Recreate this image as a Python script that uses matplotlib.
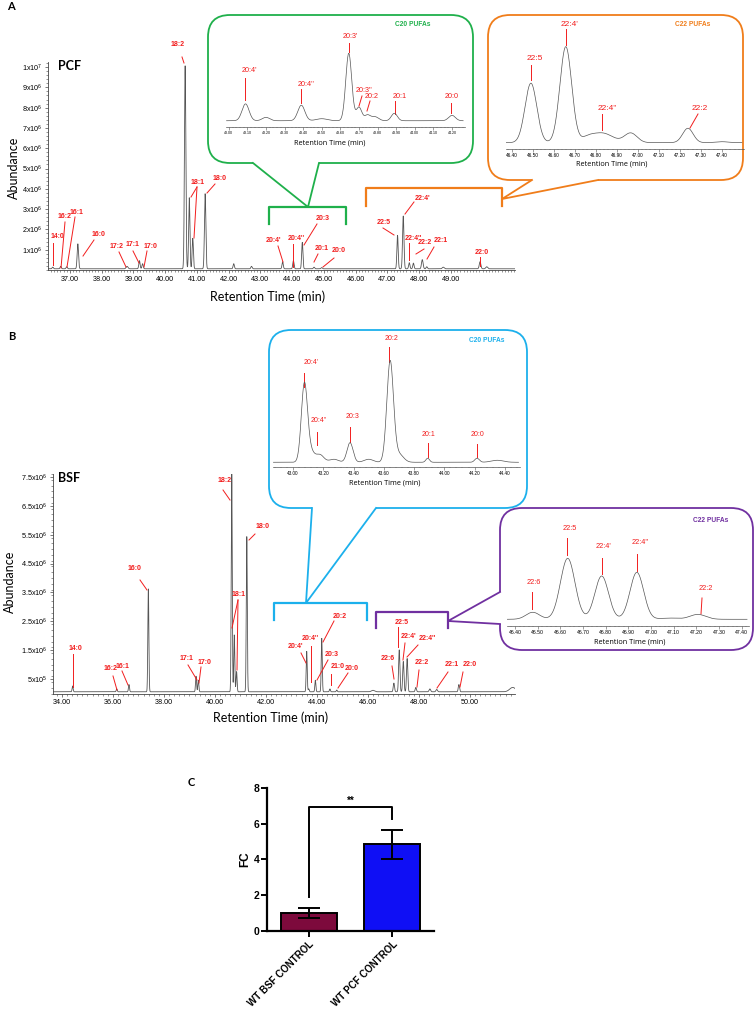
import numpy as np
import matplotlib
matplotlib.use("Agg")
import matplotlib.pyplot as plt
from matplotlib.patches import FancyBboxPatch
from matplotlib.ticker import MultipleLocator, FixedLocator, FuncFormatter

plt.rcParams['font.family'] = ['Liberation Sans', 'DejaVu Sans']

# ---------------- data ----------------
# PCF chromatogram: retention time (min), abundance (x1e6), peak sigma (min)
pcf_rt = [36.46, 36.71, 36.90, 37.25, 38.80, 39.19, 39.29, 40.63, 40.76, 40.87, 41.26, 42.16, 42.72,
          43.70, 44.04, 44.32, 44.69, 44.93, 47.32, 47.50, 47.69, 47.82, 48.10, 48.24, 48.76, 49.92, 50.13]
pcf_height = [0.08, 0.12, 0.10, 1.23, 0.12, 0.40, 0.25, 10.0, 3.5, 1.5, 3.7, 0.25, 0.12,
              0.35, 0.40, 1.3, 0.08, 0.06, 1.65, 2.6, 0.30, 0.28, 0.45, 0.10, 0.08, 0.35, 0.10]
pcf_sigma = [0.02, 0.02, 0.02, 0.022, 0.03, 0.02, 0.02, 0.022, 0.02, 0.02, 0.022, 0.02, 0.02,
             0.02, 0.02, 0.02, 0.02, 0.02, 0.02, 0.022, 0.02, 0.02, 0.025, 0.02, 0.03, 0.025, 0.03]

# BSF chromatogram
bsf_rt = [34.42, 36.15, 36.63, 37.39, 39.26, 39.35, 40.66, 40.76, 40.85, 41.25, 43.60, 43.68, 43.94,
          44.19, 44.51, 44.78, 46.20, 47.02, 47.23, 47.39, 47.54, 47.88, 48.43, 48.70, 49.57, 51.68]
bsf_height = [0.2, 0.1, 0.25, 3.56, 0.54, 0.40, 7.55, 1.97, 0.70, 5.37, 1.40, 0.10, 0.40,
              1.85, 0.10, 0.06, 0.05, 0.30, 1.45, 1.05, 1.15, 0.15, 0.10, 0.08, 0.25, 0.15]
bsf_sigma = [0.02, 0.02, 0.02, 0.02, 0.02, 0.02, 0.02, 0.02, 0.02, 0.02, 0.02, 0.02, 0.02,
             0.02, 0.02, 0.02, 0.06, 0.025, 0.025, 0.025, 0.025, 0.025, 0.03, 0.03, 0.025, 0.12]
baseline = 0.06

# zoomed traces (relative abundance)
pcf_c20_rt = [43.09, 43.20, 43.39, 43.50, 43.645, 43.70, 43.745, 43.785, 43.89, 44.20]
pcf_c20_h = [0.25, 0.05, 0.23, 0.03, 1.0, 0.20, 0.08, 0.06, 0.11, 0.08]
pcf_c20_s = [0.019, 0.02, 0.019, 0.03, 0.016, 0.015, 0.015, 0.02, 0.016, 0.018]

pcf_c22_rt = [46.491, 46.657, 46.76, 46.83, 46.966, 47.238, 47.40]
pcf_c22_h = [0.62, 1.0, 0.04, 0.10, 0.10, 0.15, 0.01]
pcf_c22_s = [0.028, 0.028, 0.03, 0.05, 0.03, 0.025, 0.03]

bsf_c20_rt = [43.075, 43.11, 43.18, 43.27, 43.377, 43.50, 43.642, 43.70, 43.89, 44.216, 44.35]
bsf_c20_h = [0.735, 0.12, 0.07, 0.03, 0.195, 0.03, 1.0, 0.08, 0.04, 0.04, 0.02]
bsf_c20_s = [0.02, 0.03, 0.025, 0.03, 0.02, 0.03, 0.022, 0.03, 0.012, 0.015, 0.04]

bsf_c22_rt = [46.478, 46.632, 46.782, 46.937, 47.08, 47.206]
bsf_c22_h = [0.115, 1.0, 0.71, 0.77, 0.02, 0.08]
bsf_c22_s = [0.03, 0.032, 0.03, 0.03, 0.04, 0.035]

# panel C
groups = ["WT BSF CONTROL", "WT PCF CONTROL"]
fc_mean = [1.0, 4.84]
fc_err = [0.30, 0.81]

# ---------------- layout helpers ----------------
W, H = 755, 1014
fig = plt.figure(figsize=(W / 100, H / 100), dpi=100)
RED = '#f21d1d'
TRACE = '#555555'


def px_axes(x0, y0, x1, y1, **kw):
    return fig.add_axes([x0 / W, 1 - y1 / H, (x1 - x0) / W, (y1 - y0) / H], **kw)


def trace(x, rt, h, s, base=0.0):
    y = np.full_like(x, base)
    for r, a, w in zip(rt, h, s):
        y += a * np.exp(-0.5 * ((x - r) / w) ** 2)
    return y


def sci_label(v, pos):
    if v <= 0:
        return ''
    e = int(np.floor(np.log10(v) + 1e-9))
    m = v / 10 ** e
    ms = f"{m:g}"
    return r"$\mathregular{" + ms + "x10^{" + str(e) + "}}$"


def style_main(ax, xlim, ylim, xmaj, xmin, ymaj, ymin):
    ax.set_facecolor('none')
    ax.set_xlim(*xlim)
    ax.set_ylim(*ylim)
    for s in ['top', 'right']:
        ax.spines[s].set_visible(False)
    for s in ['left', 'bottom']:
        ax.spines[s].set_linewidth(0.6)
        ax.spines[s].set_color('#444444')
    ax.xaxis.set_major_locator(FixedLocator(xmaj))
    ax.xaxis.set_minor_locator(MultipleLocator(xmin))
    ax.xaxis.set_major_formatter(FuncFormatter(lambda v, p: f"{v:.2f}"))
    ax.yaxis.set_major_locator(FixedLocator(ymaj))
    ax.yaxis.set_minor_locator(MultipleLocator(ymin))
    ax.yaxis.set_major_formatter(FuncFormatter(sci_label))
    ax.tick_params(which='major', length=2.5, width=0.5, labelsize=5.2, pad=1.5, color='#444444')
    ax.tick_params(which='minor', length=1.2, width=0.4, color='#444444')


def style_inset(ax, xlim, ylim, ticks, minor, fs):
    ax.set_facecolor('none')
    ax.set_xlim(*xlim)
    ax.set_ylim(*ylim)
    for s in ['top', 'right', 'left']:
        ax.spines[s].set_visible(False)
    ax.spines['bottom'].set_linewidth(0.5)
    ax.spines['bottom'].set_color('#555555')
    ax.set_yticks([])
    ax.xaxis.set_major_locator(FixedLocator(ticks))
    ax.xaxis.set_minor_locator(MultipleLocator(minor))
    ax.xaxis.set_major_formatter(FuncFormatter(lambda v, p: f"{v:.2f}"))
    ax.tick_params(which='major', length=1.8, width=0.4, labelsize=fs, pad=1, color='#555555')
    ax.tick_params(which='minor', length=1.0, width=0.3, color='#555555')


# ---------------- panel A main ----------------
axA = px_axes(48, 62, 515, 270)
xa = np.linspace(36.31, 51.02, 8000)
axA.plot(xa, trace(xa, pcf_rt, pcf_height, pcf_sigma, baseline) * 1e6, color=TRACE, lw=0.6)
style_main(axA, (36.31, 51.02), (0, 10.25e6), np.arange(37, 50), 0.1,
           np.arange(1, 11) * 1e6, 2e5)

# ---------------- panel B main ----------------
axB = px_axes(53, 474, 515, 693.5)
xb = np.linspace(33.65, 51.77, 8000)
axB.plot(xb, trace(xb, bsf_rt, bsf_height, bsf_sigma, baseline) * 1e6, color=TRACE, lw=0.6)
style_main(axB, (33.65, 51.77), (0, 7.6e6), np.arange(34, 51, 2), 0.2,
           np.arange(0.5, 8, 1.0) * 1e6, 2e5)

# ---------------- insets ----------------
insets = [
    ((226, 40, 465, 127), (42.985, 44.27), (-0.093, 1.197), np.arange(43.0, 44.25, 0.1), 0.02, 2.6,
     pcf_c20_rt, pcf_c20_h, pcf_c20_s),
    ((505.7, 20, 744, 149), (46.371, 47.505), (-0.066, 1.278), np.arange(46.4, 47.45, 0.1), 0.02, 3.4,
     pcf_c22_rt, pcf_c22_h, pcf_c22_s),
    ((273, 335, 520, 467), (42.868, 44.50), (-0.047, 1.265), np.arange(43.0, 44.45, 0.2), 0.04, 3.3,
     bsf_c20_rt, bsf_c20_h, bsf_c20_s),
    ((506.7, 515, 749.3, 625.7), (46.363, 47.433), (-0.105, 1.71), np.arange(46.4, 47.45, 0.1), 0.02, 3.7,
     bsf_c22_rt, bsf_c22_h, bsf_c22_s),
]
for rect, xl, yl, ticks, minor, fs, rt, h, s in insets:
    ax = px_axes(*rect, zorder=6)
    xi = np.linspace(xl[0] + 0.003, xl[1] - 0.01, 2000)
    ax.plot(xi, trace(xi, rt, h, s), color=TRACE, lw=0.5)
    style_inset(ax, xl, yl, ticks, minor, fs)

# ---------------- panel C ----------------
axC = px_axes(267.3, 787.7, 434, 931)
axC.bar([0, 1], fc_mean, width=0.67, color=['#7d0a3c', '#0f0ff5'], edgecolor='black', lw=1.4,
        yerr=fc_err, capsize=8, error_kw=dict(elinewidth=1.4, capthick=1.4, ecolor='black'))
axC.set_xlim(-0.5, 1.5)
axC.set_ylim(0, 8)
axC.set_yticks([0, 2, 4, 6, 8])
axC.set_xticks([0, 1])
axC.set_xticklabels(groups, rotation=45, ha='right', rotation_mode='anchor',
                    fontsize=7, fontweight='bold')
for lab in axC.get_yticklabels():
    lab.set_fontweight('bold')
axC.tick_params(axis='y', labelsize=7.5, width=1.4, length=4, pad=1.5)
axC.tick_params(axis='x', width=1.4, length=4, pad=2)
for s in ['top', 'right']:
    axC.spines[s].set_visible(False)
for s in ['left', 'bottom']:
    axC.spines[s].set_linewidth(1.6)
axC.set_ylabel('FC', fontsize=8.5, fontweight='bold', labelpad=1.5)
axC.plot([0, 0, 1, 1], [1.9, 6.95, 6.95, 6.25], color='black', lw=1.4)
axC.text(0.5, 7.0, '**', ha='center', va='bottom', fontsize=7, fontweight='bold')

# ---------------- overlay: callouts, labels, titles ----------------
ov = fig.add_axes([0, 0, 1, 1], zorder=5)
ov.set_xlim(0, W)
ov.set_ylim(H, 0)
ov.axis('off')
ov.patch.set_alpha(0)


def callout(box, color, base, tip, r, bracket, lw=1.3):
    x0, y0, x1, y1 = box
    ov.add_patch(FancyBboxPatch((x0, y0), x1 - x0, y1 - y0,
                                boxstyle=f"round,pad=0,rounding_size={r}",
                                fc='none', ec=color, lw=lw))
    (bx0, by0), (bx1, by1) = base
    ov.plot([bx0, bx1], [by0, by1], color='white', lw=lw + 1.5, solid_capstyle='butt')
    ov.plot([bx0, tip[0], bx1], [by0, tip[1], by1], color=color, lw=lw)
    bl, br, bt, bb = bracket
    ov.plot([bl, bl, br, br], [bb, bt, bt, bb], color=color, lw=lw + 0.3)


GREEN, ORANGE, CYAN, PURPLE = '#1fb04b', '#f07d1a', '#1cb0ec', '#7030a0'
callout((208, 15, 473, 163), GREEN, ((253, 163), (319, 163)), (308, 207), 22, (269, 346, 207, 224))
callout((488, 15, 743, 180), ORANGE, ((532, 180), (598, 180)), (502, 199), 22, (366, 502, 188, 206))
callout((269, 330, 527, 508), CYAN, ((312, 508), (376, 508)), (306, 603), 22, (274, 367, 603, 620))
callout((500, 508, 753, 650), PURPLE, ((500, 592), (500, 624)), (448, 621), 22, (376, 448, 612, 628))

# peak labels: text, text centre, line start, line end (figure pixels)
labels_main = [
    ("14:0", (57, 237), (53, 243), (53, 265)),
    ("16:2", (65, 217), (65, 222), (61, 268)),
    ("16:1", (77, 212), (75, 217), (67, 267)),
    ("16:0", (98, 234), (94, 240), (83, 256)),
    ("17:2", (117, 246), (119, 252), (126, 267)),
    ("17:1", (132, 245), (133, 251), (139, 263)),
    ("17:0", (151, 246), (147, 251), (144, 267)),
    ("18:2", (178, 44), (182, 57), (184, 63)),
    ("18:1", (198, 182), (197, 187), (191, 197)),
    ("", None, (197, 187), (194, 238)),
    ("18:0", (220, 178), (215, 184), (207, 193)),
    ("20:4'", (273, 240), (278, 246), (283, 262)),
    ("20:4''", (296, 239), (293, 244), (293, 267)),
    ("20:3", (323, 219), (317, 224), (304, 245)),
    ("20:1", (322, 248), (318, 254), (314, 262)),
    ("20:0", (339, 250), (334, 258), (323, 267)),
    ("22:5", (384, 223), (383, 228), (394, 235)),
    ("22:4'", (423, 198), (414, 202), (405, 214)),
    ("22:4''", (413, 238), (409, 243), (409, 260)),
    ("22:2", (425, 243), (424, 249), (416, 254)),
    ("22:1", (441, 240), (434, 247), (427, 259)),
    ("22:0", (482, 253), (480, 257), (480, 266)),
    # panel B
    ("14:0", (75, 649), (73, 654), (73, 687)),
    ("16:2", (111, 669), (113, 676), (117, 690)),
    ("16:1", (123, 666), (122, 671), (128, 685)),
    ("16:0", (135, 569), (140, 580), (147, 590)),
    ("17:1", (186, 659), (188, 665), (197, 680)),
    ("17:0", (205, 662), (201, 667), (199, 683)),
    ("18:2", (225, 481), (223, 490), (230, 500)),
    ("18:1", (239, 595), (238, 600), (232, 628)),
    ("", None, (238, 600), (237, 670)),
    ("18:0", (263, 527), (255, 534), (249, 540)),
    ("20:4'", (295, 647), (301, 653), (306, 663)),
    ("20:4''", (310, 639), (311, 646), (311, 682)),
    ("20:3", (332, 654), (328, 660), (317, 680)),
    ("20:2", (340, 616), (334, 621), (323, 642)),
    ("21:0", (338, 667), (331, 674), (331, 685)),
    ("20:0", (352, 668), (348, 673), (338, 688)),
    ("22:6", (388, 659), (392, 666), (394, 679)),
    ("22:5", (402, 622), (398, 627), (398, 647)),
    ("22:4'", (409, 637), (405, 643), (403, 660)),
    ("22:4''", (427, 639), (418, 645), (407, 657)),
    ("22:2", (422, 663), (419, 670), (417, 687)),
    ("22:1", (452, 664), (448, 672), (437, 688)),
    ("22:0", (470, 664), (463, 672), (460, 687)),
]
labels_inset = [
    ("20:4'", (249, 71), (245, 78), (245, 100), 5.2),
    ("20:4''", (306, 84), (301, 89), (301, 103), 5.2),
    ("20:3'", (350, 37), (349, 43), (349, 52), 5.2),
    ("20:3''", (364, 91), (362, 96), (359, 106), 5.2),
    ("20:2", (372, 96), (370, 101), (367, 111), 5.2),
    ("20:1", (400, 96), (395, 101), (395, 114), 5.2),
    ("20:0", (452, 97), (451, 103), (451, 113), 5.2),
    ("22:5", (535, 58), (531, 65), (531, 80), 6),
    ("22:4'", (570, 24), (566, 29), (566, 45), 6),
    ("22:4''", (607, 109), (602, 114), (602, 130), 6),
    ("22:2", (700, 109), (698, 114), (690, 128), 6),
    ("20:4'", (311, 363), (304, 373), (304, 387), 5),
    ("20:4''", (319, 421), (317, 432), (317, 445), 5),
    ("20:3", (353, 417), (350, 427), (350, 442), 5),
    ("20:2", (392, 338), (389, 347), (389, 362), 5),
    ("20:1", (428, 434), (428, 443), (428, 457), 5),
    ("20:0", (477, 434), (477, 444), (477, 457), 5),
    ("22:6", (534, 582), (532, 592), (532, 609), 5.3),
    ("22:5", (570, 529), (567, 538), (567, 555), 5.3),
    ("22:4'", (603, 547), (602, 558), (602, 574), 5.3),
    ("22:4''", (640, 543), (637, 554), (637, 571), 5.3),
    ("22:2", (706, 589), (702, 598), (701, 614), 5.3),
]
for txt, tc, ls, le in labels_main:
    if txt:
        ov.text(tc[0], tc[1], txt, ha='center', va='center', color=RED, fontsize=5, fontweight='bold')
    ov.plot([ls[0], le[0]], [ls[1], le[1]], color=RED, lw=0.7)
for txt, tc, ls, le, fs in labels_inset:
    ov.text(tc[0], tc[1], txt, ha='center', va='center', color=RED, fontsize=fs)
    ov.plot([ls[0], le[0]], [ls[1], le[1]], color=RED, lw=0.7)

# inset titles and axis labels
for txt, x, y, c in [("C20 PUFAs", 413, 25, GREEN), ("C22 PUFAs", 693, 25, ORANGE),
                     ("C20 PUFAs", 487, 340, CYAN), ("C22 PUFAs", 711, 521, PURPLE)]:
    ov.text(x, y, txt, ha='center', va='center', color=c, fontsize=4.8, fontweight='bold')
for x, y in [(330, 143), (612, 164), (385, 483), (630, 642)]:
    ov.text(x, y, "Retention Time (min)", ha='center', va='center', fontsize=5.2,
            family=['Open Sans', 'DejaVu Sans'])

# main axis titles
for x, y in [(268, 297), (271, 718)]:
    ov.text(x, y, "Retention Time (min)", ha='center', va='center', fontsize=9,
            family=['Lato', 'DejaVu Sans'])
for x, y in [(14, 168), (10, 582)]:
    ov.text(x, y, "Abundance", ha='center', va='center', rotation=90, fontsize=9,
            family=['Lato', 'DejaVu Sans'])
ov.text(69.5, 65.5, "PCF", ha='center', va='center', fontsize=9, fontweight='bold',
        family=['Lato', 'DejaVu Sans'])
ov.text(69.5, 478, "BSF", ha='center', va='center', fontsize=9, fontweight='bold',
        family=['Lato', 'DejaVu Sans'])
for txt, x, y in [("A", 11, 7), ("B", 12, 336), ("C", 191, 783)]:
    ov.text(x, y, txt, ha='center', va='center', fontsize=8, fontweight='bold',
            family=['Lato', 'DejaVu Sans'])

fig.savefig("out.png", dpi=100)
